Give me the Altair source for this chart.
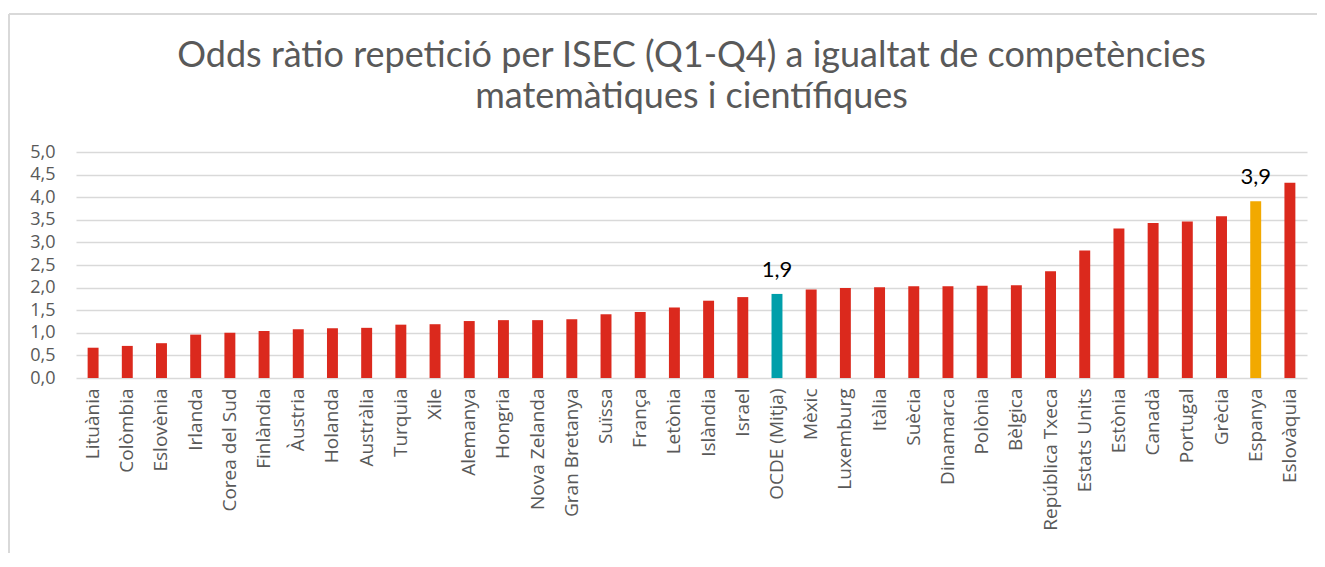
import altair as alt
import pandas as pd

countries = ["Lituània", "Colòmbia", "Eslovènia", "Irlanda", "Corea del Sud", "Finlàndia",
             "Àustria", "Holanda", "Austràlia", "Turquia", "Xile", "Alemanya", "Hongria",
             "Nova Zelanda", "Gran Bretanya", "Suïssa", "França", "Letònia", "Islàndia",
             "Israel", "OCDE (Mitja)", "Mèxic", "Luxemburg", "Itàlia", "Suècia", "Dinamarca",
             "Polònia", "Bèlgica", "República Txeca", "Estats Units", "Estònia", "Canadà",
             "Portugal", "Grècia", "Espanya", "Eslovàquia"]
values = [0.67, 0.71, 0.77, 0.96, 1.00, 1.04, 1.08, 1.10, 1.11, 1.18, 1.19, 1.26, 1.28,
          1.28, 1.30, 1.41, 1.46, 1.56, 1.71, 1.79, 1.86, 1.96, 1.99, 2.01, 2.03, 2.03,
          2.04, 2.05, 2.36, 2.82, 3.31, 3.43, 3.46, 3.58, 3.91, 4.32]
groups = ["país"] * 20 + ["OCDE"] + ["país"] * 13 + ["Espanya"] + ["país"]
labelled = {"OCDE (Mitja)", "Espanya"}
y_ticks = [0, 0.5, 1, 1.5, 2, 2.5, 3, 3.5, 4, 4.5, 5]

df = pd.DataFrame({"pais": countries, "valor": values, "grup": groups})
df["etiqueta"] = [
    f"{v:.1f}".replace(".", ",") if c in labelled else "" for c, v in zip(countries, values)
]

TFONT = "Lato"
LFONT = "Open Sans"
GRAY = "#595959"
W, H = 1231, 226

x_scale = alt.Scale(paddingInner=0.68, paddingOuter=0.34)
y_scale = alt.Scale(domain=[0, 5])

x_axis = alt.Axis(labelAngle=-90, labelFontSize=19, labelColor=GRAY, labelFont=LFONT,
                  labelPadding=10, ticks=False, domain=False, labelAlign="right",
                  labelBaseline="middle", labelLimit=300)
y_axis = alt.Axis(values=y_ticks, labelOverlap=False,
                  labelExpr="replace(format(datum.value, '.1f'), '.', ',')",
                  labelFontSize=18, labelColor=GRAY, labelFont=LFONT,
                  labelPadding=21, ticks=False, domain=False,
                  gridColor="#d9d9d9", gridWidth=1.5)

x_enc = alt.X("pais:N", sort=None, title=None, scale=x_scale, axis=x_axis)
y_enc = alt.Y("valor:Q", title=None, scale=y_scale, axis=y_axis)

bars = alt.Chart(df).mark_bar().encode(
    x=x_enc, y=y_enc,
    color=alt.Color("grup:N", legend=None,
                    scale=alt.Scale(domain=["país", "OCDE", "Espanya"],
                                    range=["#db291d", "#009faa", "#f2a900"])),
)

text = alt.Chart(df).mark_text(baseline="alphabetic", dy=-17, fontSize=22, font=TFONT,
                               color="#000000").encode(
    x=x_enc, y=y_enc, text="etiqueta:N")

frame_left = alt.Chart(df).mark_rule(color="#d9d9d9", strokeWidth=1.5).encode(
    x=alt.value(-67), y=alt.value(-138), y2=alt.value(H + 200))
frame_top = alt.Chart(df).mark_rule(color="#d9d9d9", strokeWidth=1.5).encode(
    x=alt.value(-67), x2=alt.value(W + 40), y=alt.value(-138))

chart = alt.layer(frame_left, frame_top, bars, text).properties(
    width=W, height=H,
    autosize=alt.AutoSizeParams(type="none"),
    padding={"left": 68, "top": 144, "right": 10, "bottom": 175},
    title=alt.TitleParams(
        ["Odds ràtio repetició per ISEC (Q1-Q4) a igualtat de competències",
         "matemàtiques i científiques"],
        anchor="middle", fontSize=36, font=TFONT, color=GRAY, fontWeight="normal",
        lineHeight=41, offset=-103),
).configure_view(stroke=None).configure_axis(labelOverlap=False)

chart.save("out.html", embed_options={"renderer": "svg", "actions": False})
